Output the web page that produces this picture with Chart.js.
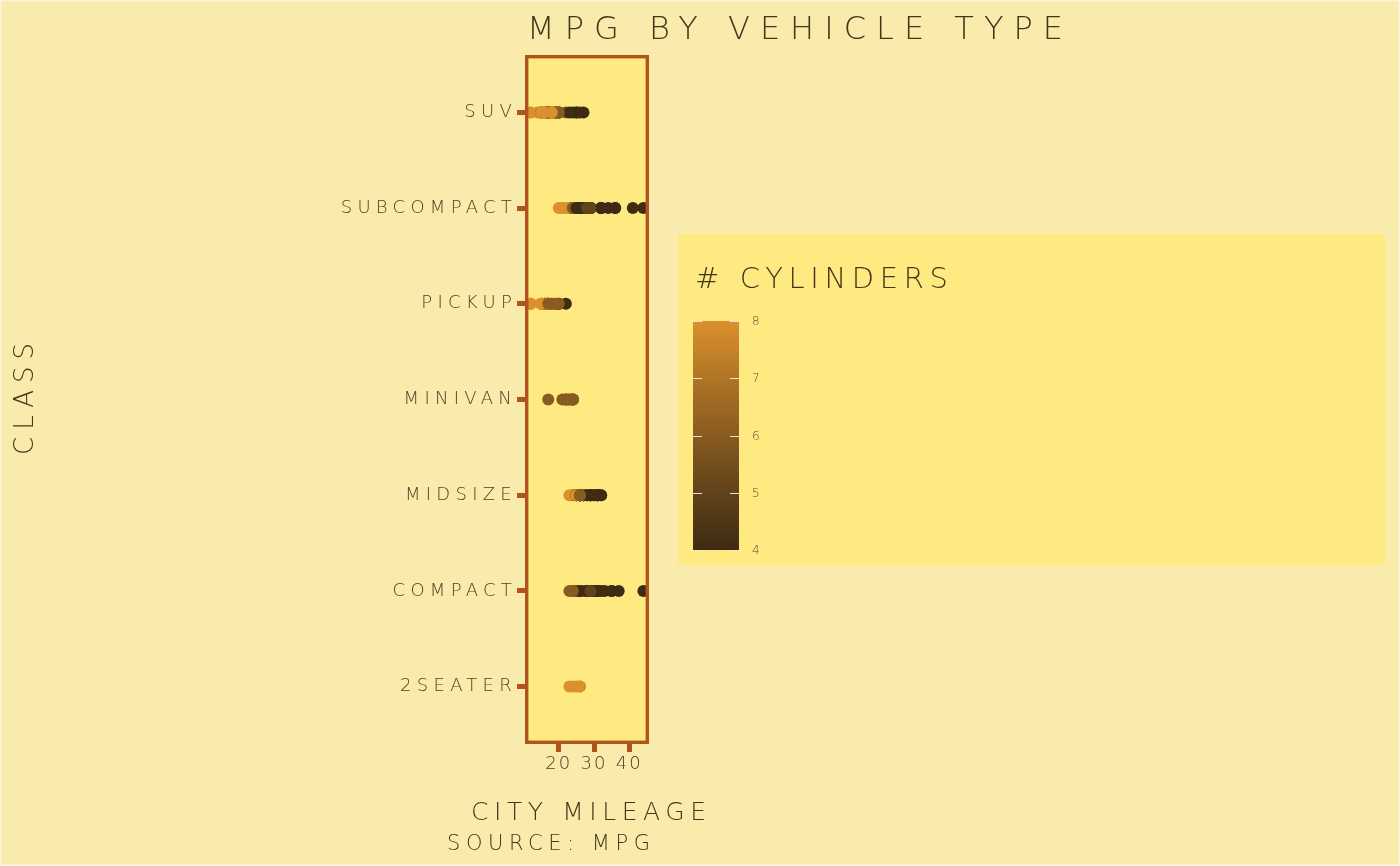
<!DOCTYPE html>
<html><head><meta charset="utf-8">
<script src="https://cdn.jsdelivr.net/npm/chart.js@4.4.0/dist/chart.umd.min.js"></script>
<style>html,body{margin:0;padding:0;background:#f9ebab;}canvas{display:block}</style>
</head><body>
<canvas id="c" width="1400" height="866"></canvas>
<script>
// ---------------- data ----------------
const classLabels = ['2SEATER','COMPACT','MIDSIZE','MINIVAN','PICKUP','SUBCOMPACT','SUV'];

const hwy2seater = [26,23,26,25,24];
const cyl2seater = [8,8,8,8,8];

const hwyCompact = [29,29,31,30,26,26,27, 26,25,28,27,25,25,25,25, 26,26,27,26, 31,31,31,32,27,26,27, 30,33,35,37,35, 29,29,28,29,24, 44,29,26,29,29,29,29,23,24];
const cylCompact = [4,4,4,4,6,6,6, 4,4,4,4,6,6,6,6, 4,4,4,4, 4,4,4,4,6,6,6, 4,4,4,4,4, 4,4,4,4,6, 4,4,4,4,4,5,5,6,6];

const hwyMidsize = [24,25,23, 27,30,26,29,26, 26,27,30,31,26,26,28, 31,32,27,26,26,25, 26,25,25, 26,27,26,25,25, 31,31,31,32,27,26,26, 29,29,28,29,26,26,26];
const cylMidsize = [6,6,8, 4,4,6,6,6, 4,4,4,4,6,6,6, 4,4,6,6,6,6, 6,6,6, 6,6,6,6,8, 4,4,4,4,6,6,6, 4,4,4,4,6,6,6];

const hwyMinivan = [24,24,22,22,24,24,17,22,21,23,23];
const cylMinivan = [4,6,6,6,6,6,6,6,6,6,6];

const hwyPickup = [18,19,17,17,17,17,12,15,16, 16,12,15,16,17,15,17,17,16,12, 17,16,17,15,17,17,15, 20,20,22,17,19,18,20];
const cylPickup = [6,6,6,6,8,8,8,8,8, 8,8,8,8,8,8,8,8,8,8, 6,6,8,8,8,8,8, 4,4,4,6,6,6,6];

const hwySubcompact = [26,25,26,24,21,22,23,22,20, 32,32,29,32,34,36,36,29,26, 26,29,28,26,24,24,24, 26,26,27,25, 44,41,29,26,28,29];
const cylSubcompact = [6,6,6,6,8,8,8,8,8, 4,4,4,4,4,4,4,4,4, 4,4,4,6,6,6,6, 4,4,4,4, 4,4,4,4,5,5];

const hwySuv = [20,15,20,17,17, 19,14,15,17, 17,17,12,17,16,18,15, 17,17,18, 19,19,19,17,17,17, 22,19,18,17,19,18,19,12, 18,18,17,18, 17,16,18, 19,19,17,17, 17,20,17,18, 25,24,27,25,26,23, 20,15,20,16,17,18, 15,16];
const cylSuv = [8,8,8,8,8, 8,8,8,8, 6,8,8,8,8,8,8, 8,8,8, 6,6,6,8,8,8, 6,6,8,8,8,8,8,8, 8,8,8,8, 8,8,8, 6,6,8,8, 6,6,6,8, 4,4,4,4,4,4, 4,6,6,6,6,8, 8,8];

const xTickValues = [20,30,40];
const cylBreaks = [4,5,6,7,8];

const hwyByClass = [hwy2seater,hwyCompact,hwyMidsize,hwyMinivan,hwyPickup,hwySubcompact,hwySuv];
const cylByClass = [cyl2seater,cylCompact,cylMidsize,cylMinivan,cylPickup,cylSubcompact,cylSuv];

// ---------------- styling ----------------
const FONT = '"DejaVu Sans", "Noto Sans", sans-serif';
const FW = '200';
const TEXT = '#45361a';
const TICKTEXT = '#4e3e22';
const BORDER = '#b0541b';
const PANEL = '#ffea82';
const BG = '#f9ebab';
const LOW = '#3d2b13', HIGH = '#db902c';

// Lab interpolation for colour scale
function hex2rgb(h){h=h.replace('#','');return [0,2,4].map(i=>parseInt(h.substr(i,2),16));}
function lin(c){c/=255;return c<=0.04045?c/12.92:Math.pow((c+0.055)/1.055,2.4);}
function unlin(c){c=c<=0.0031308?12.92*c:1.055*Math.pow(c,1/2.4)-0.055;return Math.max(0,Math.min(255,Math.round(c*255)));}
function rgb2lab(rgb){const [r,g,b]=rgb.map(lin);
  let x=(r*0.4124+g*0.3576+b*0.1805)/0.95047,y=(r*0.2126+g*0.7152+b*0.0722),z=(r*0.0193+g*0.1192+b*0.9505)/1.08883;
  const f=t=>t>0.008856?Math.cbrt(t):7.787*t+16/116;x=f(x);y=f(y);z=f(z);
  return [116*y-16,500*(x-y),200*(y-z)];}
function lab2rgb(lab){let y=(lab[0]+16)/116,x=lab[1]/500+y,z=y-lab[2]/200;
  const fi=t=>t*t*t>0.008856?t*t*t:(t-16/116)/7.787;x=fi(x)*0.95047;y=fi(y);z=fi(z)*1.08883;
  const r=x*3.2406+y*-1.5372+z*-0.4986,g=x*-0.9689+y*1.8758+z*0.0415,b=x*0.0557+y*-0.2040+z*1.0570;
  return [unlin(r),unlin(g),unlin(b)];}
const labLow=rgb2lab(hex2rgb(LOW)), labHigh=rgb2lab(hex2rgb(HIGH));
function colorFor(v){const t=(v-4)/4;const l=labLow.map((a,i)=>a+(labHigh[i]-a)*t);const c=lab2rgb(l);return `rgb(${c[0]},${c[1]},${c[2]})`;}

// measure letter spacing targets
const mctx=document.createElement('canvas').getContext('2d');
function measure(text,size){mctx.font=`${FW} ${size}px ${FONT}`;mctx.letterSpacing='0px';return mctx.measureText(text).width;}
const Y_SIZE=18, X_SIZE=18;
const lsY=Math.max(0,(171-measure('SUBCOMPACT',Y_SIZE))/9);
const lsX=Math.max(0,Math.min(3,(25-measure('20',X_SIZE))));

function spaced(ctx,text,x,y,size,target,color){
  ctx.font=`${FW} ${size}px ${FONT}`;ctx.letterSpacing='0px';
  const w0=ctx.measureText(text).width;const ls=(target-w0)/(text.length-1);
  ctx.letterSpacing=ls+'px';ctx.fillStyle=color;ctx.textAlign='left';ctx.textBaseline='alphabetic';
  ctx.fillText(text,x,y);ctx.letterSpacing='0px';
}

const datasets = classLabels.map((c,i)=>({
  label:c,
  data:hwyByClass[i].map(v=>({x:v,y:i})),
  pointBackgroundColor:cylByClass[i].map(colorFor),
  pointBorderWidth:0,
  pointRadius:6,
  pointHoverRadius:6,
  showLine:false,
  clip:0
}));

const decor = {
  id:'decor',
  beforeDraw(chart){
    const ctx=chart.ctx, a=chart.chartArea;
    ctx.save();
    ctx.fillStyle=BG;ctx.fillRect(0,0,1400,866);
    ctx.strokeStyle='#fbf4d8';ctx.lineWidth=1.5;ctx.strokeRect(0.75,0.75,1398.5,864.5);
    ctx.fillStyle=PANEL;ctx.fillRect(a.left,a.top,a.right-a.left,a.bottom-a.top);
    ctx.restore();
    ctx.letterSpacing=lsY+'px';
  },
  afterDatasetsDraw(chart){
    const ctx=chart.ctx, a=chart.chartArea;
    ctx.save();ctx.letterSpacing='0px';
    ctx.strokeStyle=BORDER;ctx.lineWidth=3.4;
    ctx.strokeRect(a.left+1.7,a.top+1.7,a.right-a.left-3.4,a.bottom-a.top-3.4);
    ctx.restore();
    ctx.letterSpacing=lsX+'px';
  },
  afterDraw(chart){
    const ctx=chart.ctx;
    ctx.save();
    ctx.letterSpacing='0px';
    // title
    spaced(ctx,'MPG BY VEHICLE TYPE',527,39,32,536,TEXT);
    // x title + caption
    spaced(ctx,'CITY MILEAGE',471,820,25,235,TEXT);
    spaced(ctx,'SOURCE: MPG',447,850,21,203,TEXT);
    // y title
    ctx.save();ctx.translate(33,455);ctx.rotate(-Math.PI/2);
    spaced(ctx,'CLASS',0,0,26,112,TEXT);
    ctx.restore();
    // legend box
    ctx.fillStyle=PANEL;ctx.fillRect(678,234,707,331);
    spaced(ctx,'# CYLINDERS',695,288,29,253,TEXT);
    const bx=693,bw=46,top=321,bot=550;
    const g=ctx.createLinearGradient(0,bot,0,top);
    for(let k=0;k<=20;k++){g.addColorStop(k/20,colorFor(4+4*k/20));}
    ctx.fillStyle=g;ctx.fillRect(bx,top,bw,bot-top);
    ctx.strokeStyle='rgba(240,232,220,0.95)';ctx.lineWidth=1;
    ctx.font=`${FW} 12px ${FONT}`;ctx.fillStyle='#5a4a2c';ctx.textAlign='left';ctx.textBaseline='middle';
    cylBreaks.forEach(b=>{
      const y=Math.round(bot-(b-4)/4*(bot-top))+0.5;
      ctx.beginPath();ctx.moveTo(bx,y);ctx.lineTo(bx+9,y);ctx.moveTo(bx+bw-9,y);ctx.lineTo(bx+bw,y);ctx.stroke();
      ctx.fillText(String(b),752,y);
    });
    ctx.restore();
  }
};

new Chart(document.getElementById('c'),{
  type:'scatter',
  data:{datasets},
  options:{
    responsive:false,animation:false,events:[],
    devicePixelRatio:1,
    layout:{padding:{top:55,right:751,left:0,bottom:0}},
    plugins:{legend:{display:false},tooltip:{enabled:false},title:{display:false}},
    scales:{
      x:{type:'linear',min:10.4,max:45.6,
        afterFit(s){s.height=122;},
        afterBuildTicks(s){s.ticks=xTickValues.map(v=>({value:v}));},
        grid:{drawOnChartArea:false,drawTicks:true,tickLength:8,tickWidth:5,tickColor:BORDER,color:BORDER},
        border:{display:false},
        ticks:{z:1,padding:2,color:TICKTEXT,font:{family:FONT,size:X_SIZE,weight:FW},maxRotation:0,autoSkip:false}
      },
      y:{type:'linear',min:-0.6,max:6.6,
        afterFit(s){s.width=525;},
        afterBuildTicks(s){s.ticks=classLabels.map((c,i)=>({value:i}));},
        grid:{drawOnChartArea:false,drawTicks:true,tickLength:8,tickWidth:5,tickColor:BORDER,color:BORDER},
        border:{display:false},
        ticks:{padding:Math.max(0,5-lsY),color:TICKTEXT,font:{family:FONT,size:Y_SIZE,weight:FW},autoSkip:false,
          callback:(v)=>classLabels[v]}
      }
    }
  },
  plugins:[decor]
});
</script>
</body></html>
